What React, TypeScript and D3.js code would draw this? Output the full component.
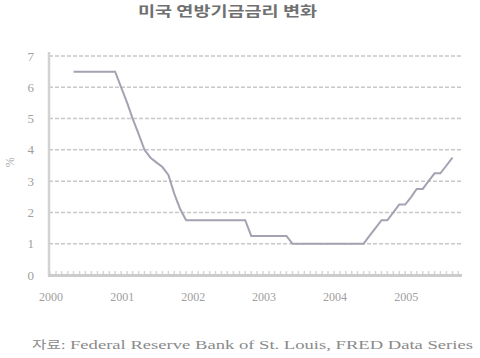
import React from "react";
import * as d3 from "d3";

const title = "미국 연방기금금리 변화";
const sourcePrefix = "자료:";
const sourceText = " Federal Reserve Bank of St. Louis, FRED Data Series";
const yLabel = "%";

const months: string[] = [
  "2000-05","2000-06","2000-07","2000-08","2000-09","2000-10","2000-11","2000-12",
  "2001-01","2001-02","2001-03","2001-04","2001-05","2001-06","2001-07","2001-08","2001-09","2001-10","2001-11","2001-12",
  "2002-01","2002-02","2002-03","2002-04","2002-05","2002-06","2002-07","2002-08","2002-09","2002-10","2002-11","2002-12",
  "2003-01","2003-02","2003-03","2003-04","2003-05","2003-06","2003-07","2003-08","2003-09","2003-10","2003-11","2003-12",
  "2004-01","2004-02","2004-03","2004-04","2004-05","2004-06","2004-07","2004-08","2004-09","2004-10","2004-11","2004-12",
  "2005-01","2005-02","2005-03","2005-04","2005-05","2005-06","2005-07","2005-08","2005-09",
];
const rates: number[] = [
  6.5, 6.5, 6.5, 6.5, 6.5, 6.5, 6.5, 6.5,
  6.0, 5.5, 5.0, 4.5, 4.0, 3.75, 3.6, 3.45, 3.2, 2.6, 2.1, 1.75,
  1.75, 1.75, 1.75, 1.75, 1.75, 1.75, 1.75, 1.75, 1.75, 1.75, 1.25, 1.25,
  1.25, 1.25, 1.25, 1.25, 1.25, 1.0, 1.0, 1.0, 1.0, 1.0, 1.0, 1.0,
  1.0, 1.0, 1.0, 1.0, 1.0, 1.0, 1.25, 1.5, 1.75, 1.75, 2.0, 2.25,
  2.25, 2.5, 2.75, 2.75, 3.0, 3.25, 3.25, 3.5, 3.75,
];
const yTicks: number[] = [0, 1, 2, 3, 4, 5, 6, 7];
const yearTicks: number[] = [2000, 2001, 2002, 2003, 2004, 2005];

export default function App() {
  const parse = d3.timeParse("%Y-%m");
  const data = months.map((m, i) => ({ date: parse(m) as Date, value: rates[i] }));

  const x = d3
    .scaleTime()
    .domain([new Date(2000, 0, 1), new Date(2005, 9, 20)])
    .range([50, 462]);
  const y = d3.scaleLinear().domain([0, 7]).range([275, 56]);

  const line = d3
    .line<{ date: Date; value: number }>()
    .x((d) => x(d.date))
    .y((d) => y(d.value));

  const monthTicks = d3.timeMonth.range(new Date(2000, 0, 1), new Date(2005, 10, 1));

  const serif = "'Liberation Serif', 'Noto Sans CJK KR', serif";

  return (
    <svg
      width={480}
      height={358}
      style={{ position: "absolute", left: 0, top: 0, background: "#fff" }}
    >
      <text
        x={138}
        y={16}
        fontFamily="'Noto Sans CJK KR', sans-serif"
        fontSize={14}
        fontWeight="bold"
        fill="#707070"
        textLength={179}
        lengthAdjust="spacingAndGlyphs"
      >
        {title}
      </text>

      {/* gridlines */}
      {yTicks
        .filter((t) => t > 0)
        .map((t) => (
          <line
            key={"g" + t}
            x1={49}
            x2={462}
            y1={y(t)}
            y2={y(t)}
            stroke="#c8c8c8"
            strokeWidth={1.5}
            strokeDasharray="4,2"
          />
        ))}

      {/* y axis line */}
      <line x1={49} x2={49} y1={52} y2={276} stroke="#d2d2d2" strokeWidth={2.5} />

      {/* monthly ticks on baseline */}
      {monthTicks.map((d, i) => (
        <line
          key={"m" + i}
          x1={x(d)}
          x2={x(d)}
          y1={y(0) - 4}
          y2={y(0)}
          stroke="#d6d6d6"
          strokeWidth={1.5}
        />
      ))}
      <line x1={48} x2={462} y1={y(0) + 0.5} y2={y(0) + 0.5} stroke="#cccccc" strokeWidth={3} />

      {/* y labels */}
      {yTicks.map((t) => (
        <text
          key={"y" + t}
          x={34}
          y={y(t)}
          dy="0.35em"
          textAnchor="end"
          fontFamily={serif}
          fontSize={13}
          fill="#a0a0a0"
        >
          {t}
        </text>
      ))}
      <text
        transform={`translate(10,${y(3.6)}) rotate(-90)`}
        textAnchor="middle"
        dy="0.35em"
        fontFamily={serif}
        fontSize={12}
        fill="#a8a8a8"
      >
        {yLabel}
      </text>

      {/* x labels */}
      {yearTicks.map((yr) => (
        <text
          key={"x" + yr}
          x={x(new Date(yr, 0, 1)) + 1}
          y={297}
          dy="0.35em"
          textAnchor="middle"
          fontFamily={serif}
          fontSize={12}
          fill="#a0a0a0"
        >
          {yr}
        </text>
      ))}

      {/* data line */}
      <path d={line(data) || ""} fill="none" stroke="#a3a3b3" strokeWidth={2} />

      <text
        x={32}
        y={349}
        fontFamily={serif}
        fontSize={13}
        fill="#8a8a8a"
        textLength={441}
        lengthAdjust="spacingAndGlyphs"
      >
        <tspan fontSize={11} fontFamily="'Noto Sans CJK KR', sans-serif">{sourcePrefix}</tspan>
        {sourceText}
      </text>
    </svg>
  );
}
